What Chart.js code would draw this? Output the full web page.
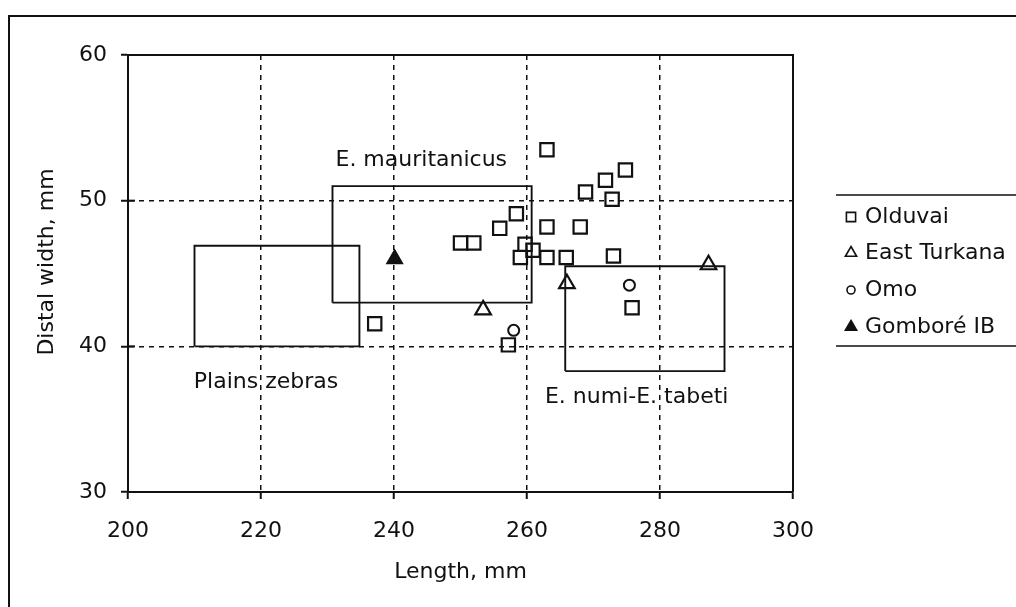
<!DOCTYPE html>
<html>
<head>
<meta charset="utf-8">
<script src="https://cdn.jsdelivr.net/npm/chart.js@4.4.0/dist/chart.umd.min.js"></script>
<style>
  html, body { margin: 0; padding: 0; background: #fff; }
  #wrap { width: 1016px; height: 607px; position: relative; }
  canvas { display: block; }
</style>
</head>
<body>
<div id="wrap"><canvas id="c" width="1016" height="607"></canvas></div>
<script>
// ---- Data ----
const olduvaiX = [263, 274.8, 271.8, 268.8, 272.8, 258.4, 255.9, 263, 268, 250, 252, 259.7, 260.9, 259, 263, 265.9, 273, 275.8, 257.2, 237.1];
const olduvaiY = [53.5, 52.1, 51.4, 50.6, 50.1, 49.1, 48.1, 48.2, 48.2, 47.1, 47.1, 47.0, 46.6, 46.1, 46.1, 46.1, 46.2, 42.65, 40.1, 41.55];
const turkanaX = [253.4, 266, 287.3];
const turkanaY = [42.5, 44.3, 45.6];
const omoX = [258, 275.4];
const omoY = [41.1, 44.2];
const gomboreX = [240.1];
const gomboreY = [46.0];

// Range boxes: [xMin, xMax], [yMin, yMax]
const boxNames = ["Plains zebras", "E. mauritanicus", "E. numi-E. tabeti"];
const boxX = [[210, 234.8], [230.75, 260.7], [265.75, 289.7]];
const boxY = [[40, 46.9], [43, 51], [38.3, 45.5]];
// Box label anchors (data coords, left edge / vertical centre)
const labelX = [209.9, 231.2, 262.7];
const labelY = [37.5, 52.75, 36.5];

const seriesNames = ["Olduvai", "East Turkana", "Omo", "Gomboré IB"];
const xTicks = [200, 220, 240, 260, 280, 300];
const yTicks = [30, 40, 50, 60];
const xTitle = "Length, mm";
const yTitle = "Distal width, mm";

const FONT = "'DejaVu Sans', sans-serif";
const INK = '#111';

function pts(xs, ys) { return xs.map((x, i) => ({x: x, y: ys[i]})); }
function boxPts(i) {
  const [x0, x1] = boxX[i], [y0, y1] = boxY[i];
  return [{x: x0, y: y0}, {x: x1, y: y0}, {x: x1, y: y1}, {x: x0, y: y1}, {x: x0, y: y0}];
}

const markerStyles = [
  {pointStyle: 'rect', radius: 9.4, borderWidth: 2.2, fill: 'rgba(0,0,0,0)'},
  {pointStyle: 'triangle', radius: 9, borderWidth: 2.2, fill: 'rgba(0,0,0,0)'},
  {pointStyle: 'circle', radius: 5.5, borderWidth: 2, fill: 'rgba(0,0,0,0)'},
  {pointStyle: 'triangle', radius: 9, borderWidth: 1.5, fill: INK}
];
const seriesData = [pts(olduvaiX, olduvaiY), pts(turkanaX, turkanaY), pts(omoX, omoY), pts(gomboreX, gomboreY)];

const datasets = [];
boxNames.forEach((n, i) => {
  datasets.push({
    label: n, data: boxPts(i), showLine: true, fill: false, tension: 0,
    borderColor: INK, borderWidth: 1.9, pointRadius: 0, order: 2
  });
});
seriesNames.forEach((n, i) => {
  const m = markerStyles[i];
  datasets.push({
    label: n, data: seriesData[i], showLine: false,
    pointStyle: m.pointStyle, pointRadius: m.radius, pointBorderWidth: m.borderWidth,
    pointBorderColor: INK, pointBackgroundColor: m.fill, order: 1
  });
});

const decor = {
  id: 'decor',
  beforeDatasetsDraw(chart) {
    const {ctx, chartArea: a, scales: {x, y}} = chart;
    ctx.save();
    ctx.strokeStyle = INK;
    ctx.lineWidth = 2;
    ctx.setLineDash([]);
    // solid top & right plot frame
    ctx.beginPath();
    ctx.moveTo(a.left, a.top); ctx.lineTo(a.right, a.top); ctx.lineTo(a.right, a.bottom);
    ctx.stroke();
    // inner half of y tick marks
    yTicks.forEach(v => {
      const py = y.getPixelForValue(v);
      ctx.beginPath(); ctx.moveTo(a.left, py); ctx.lineTo(a.left + 7, py); ctx.stroke();
    });
    ctx.restore();
  },
  afterDraw(chart) {
    const {ctx, chartArea: a, scales: {x, y}} = chart;
    ctx.save();
    // outer frame
    ctx.strokeStyle = INK; ctx.lineWidth = 2;
    ctx.beginPath(); ctx.moveTo(9, 607); ctx.lineTo(9, 16); ctx.lineTo(1016, 16); ctx.stroke();

    ctx.fillStyle = INK;
    ctx.font = "22px " + FONT;
    ctx.textBaseline = 'middle';
    // box labels
    ctx.textAlign = 'left';
    boxNames.forEach((n, i) => {
      ctx.fillText(n, x.getPixelForValue(labelX[i]), y.getPixelForValue(labelY[i]));
    });
    // axis titles
    ctx.textAlign = 'center';
    ctx.fillText(xTitle, (a.left + a.right) / 2, 572);
    ctx.save();
    ctx.translate(47, 262);
    ctx.rotate(-Math.PI / 2);
    ctx.fillText(yTitle, 0, 0);
    ctx.restore();

    // legend
    const lx = 836, top = 195, bot = 346;
    ctx.lineWidth = 1.5;
    ctx.beginPath(); ctx.moveTo(lx, top); ctx.lineTo(1016, top); ctx.stroke();
    ctx.beginPath(); ctx.moveTo(lx, bot); ctx.lineTo(1016, bot); ctx.stroke();
    const rows = [217, 253, 290, 327];
    const legendSizes = [6.5, 6.5, 4, 6.5];
    seriesNames.forEach((n, i) => {
      const m = markerStyles[i];
      ctx.strokeStyle = INK;
      ctx.fillStyle = m.fill;
      ctx.lineWidth = 1.6;
      Chart.helpers.drawPoint(ctx, {pointStyle: m.pointStyle, radius: legendSizes[i], borderWidth: 1.6, rotation: 0}, 851, rows[i]);
      ctx.fillStyle = INK;
      ctx.textAlign = 'left';
      ctx.fillText(n, 865, rows[i]);
    });
    ctx.restore();
  }
};

new Chart(document.getElementById('c'), {
  type: 'scatter',
  data: {datasets: datasets},
  options: {
    responsive: false,
    animation: false,
    devicePixelRatio: 1,
    events: [],
    layout: {padding: {left: 0, top: 55, right: 223, bottom: 0}},
    plugins: {legend: {display: false}, tooltip: {enabled: false}},
    scales: {
      x: {
        type: 'linear', min: 200, max: 300,
        afterFit(s) { s.height = 115; },
        afterBuildTicks(s) { s.ticks = xTicks.map(v => ({value: v})); },
        ticks: {color: INK, font: {family: FONT, size: 22}, padding: 19, maxRotation: 0},
        grid: {color: INK, lineWidth: 1.5, tickLength: 7, tickColor: INK, tickWidth: 2},
        border: {display: true, color: INK, width: 2, dash: [5, 5]}
      },
      y: {
        type: 'linear', min: 30, max: 60,
        afterFit(s) { s.width = 128; },
        afterBuildTicks(s) { s.ticks = yTicks.map(v => ({value: v})); },
        ticks: {color: INK, font: {family: FONT, size: 22}, padding: 14},
        grid: {color: INK, lineWidth: 1.5, tickLength: 7, tickColor: INK, tickWidth: 2},
        border: {display: true, color: INK, width: 2, dash: [5, 5]}
      }
    }
  },
  plugins: [decor]
});
</script>
</body>
</html>
